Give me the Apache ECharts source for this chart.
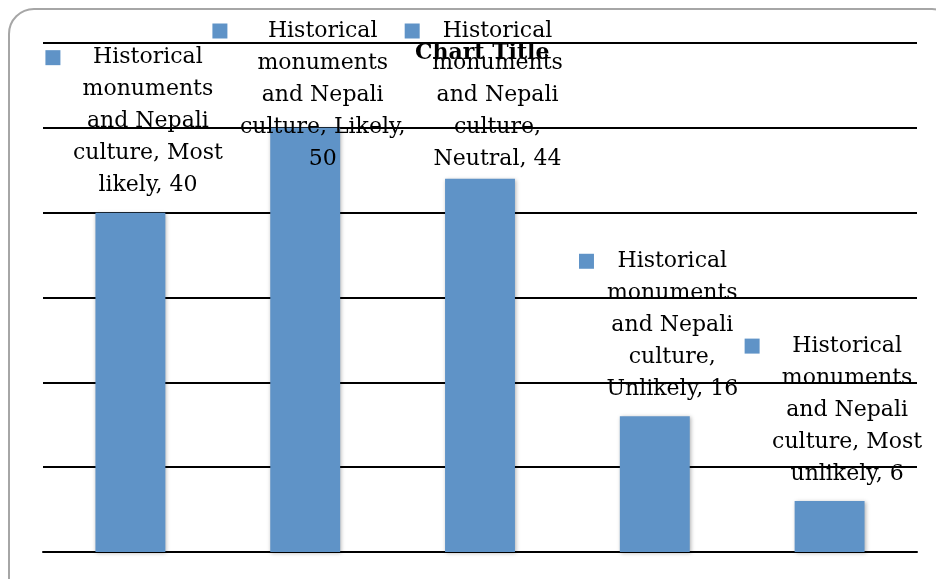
<!DOCTYPE html>
<html>
<head>
<meta charset="utf-8">
<script src="https://cdn.jsdelivr.net/npm/echarts@6/dist/echarts.min.js"></script>
<style>
    html, body {
        margin: 0;
        padding: 0;
        background: #fff;
        overflow: hidden;
    }

    .frame {
        position: absolute;
        left: 8px;
        top: 8px;
        width: 950px;
        height: 600px;
        border: 2px solid #a6a6a6;
        border-radius: 26px;
        box-sizing: border-box;
    }

    #chart {
        position: absolute;
        left: 0;
        top: 0;
        width: 936px;
        height: 579px;
    }
</style>
</head>
<body>
<div class="frame"></div>
<div id="chart"></div>
<script>
// 数据
const seriesName = 'Historical monuments and Nepali culture'
const categories = ['Most likely', 'Likely', 'Neutral', 'Unlikely', 'Most unlikely']
const values = [40, 50, 44, 16, 6]
const yMin = 0
const yMax = 60
const yStep = 10

const barColor = '#5f93c7'
const labelFont = 'DejaVu Serif'
const labelSize = 22
const wrapWidth = 172

// 测量文字宽度, 用来换行
const ctx = document.createElement('canvas').getContext('2d')
ctx.font = labelSize + 'px "' + labelFont + '"'
function textWidth(s) {
    return ctx.measureText(s).width
}

function wrap(text, maxW) {
    const words = text.split(' ')
    const lines = []
    let cur = ''
    words.forEach(w => {
        const test = cur ? cur + ' ' + w : w
        if (cur && textWidth(test) > maxW) {
            lines.push(cur)
            cur = w
        } else {
            cur = test
        }
    })
    if (cur) lines.push(cur)
    return lines
}

// 每个标签: 左边一个小方块 + 居中的文字
function makeLabel(cat, val) {
    const lines = wrap(seriesName + ', ' + cat + ', ' + val, wrapWidth)
    const blockW = Math.max(...lines.map(textWidth))
    const gap = (blockW - textWidth(lines[0])) / 2 + 12.5
    const str = lines.map((l, i) => {
        if (i == 0) return '{sq|}{g|}{t|' + l + '}{g|}{sqr|}'
        return '{t|' + l + '}'
    }).join('\n')
    return {
        formatter: str,
        rich: {
            t: {
                fontFamily: labelFont,
                fontSize: labelSize,
                lineHeight: 32,
                color: '#000'
            },
            sq: {
                width: 15,
                height: 15,
                backgroundColor: barColor
            },
            sqr: {
                width: 15,
                height: 15
            },
            g: {
                width: gap,
                height: 15
            }
        }
    }
}

const mychart = echarts.init(document.getElementById('chart'))
mychart.setOption({
    animation: false,
    backgroundColor: 'transparent',
    title: {
        text: 'Chart Title',
        left: 415,
        top: 42,
        padding: 0,
        textStyle: {
            fontFamily: labelFont,
            fontWeight: 'bold',
            fontSize: 22,
            color: '#000'
        }
    },
    grid: {
        left: 43,
        right: 19,
        top: 43,
        bottom: 27
    },
    xAxis: {
        type: 'category',
        data: categories,
        axisLine: {
            lineStyle: { color: '#000', width: 2 }
        },
        axisTick: { show: false },
        axisLabel: { show: false }
    },
    yAxis: {
        type: 'value',
        min: yMin,
        max: yMax,
        interval: yStep,
        axisLine: { show: false },
        axisTick: { show: false },
        axisLabel: { show: false },
        splitLine: {
            lineStyle: { color: '#000', width: 2 }
        }
    },
    series: [
        {
            name: seriesName,
            type: 'bar',
            barWidth: '40%',
            itemStyle: {
                color: barColor,
                shadowBlur: 4,
                shadowColor: 'rgba(0,0,0,0.3)',
                shadowOffsetX: 1,
                shadowOffsetY: 1
            },
            label: {
                show: true,
                position: 'top',
                distance: 11,
                align: 'center'
            },
            labelLayout(params) {
                // 标签往右偏一点, 超出顶部的往下推
                const top = params.labelRect.y
                return { dx: 17.5, dy: top < 20 ? 20 - top : 0 }
            },
            data: values.map((v, i) => ({
                value: v,
                label: makeLabel(categories[i], v)
            }))
        }
    ]
})
</script>
</body>
</html>
